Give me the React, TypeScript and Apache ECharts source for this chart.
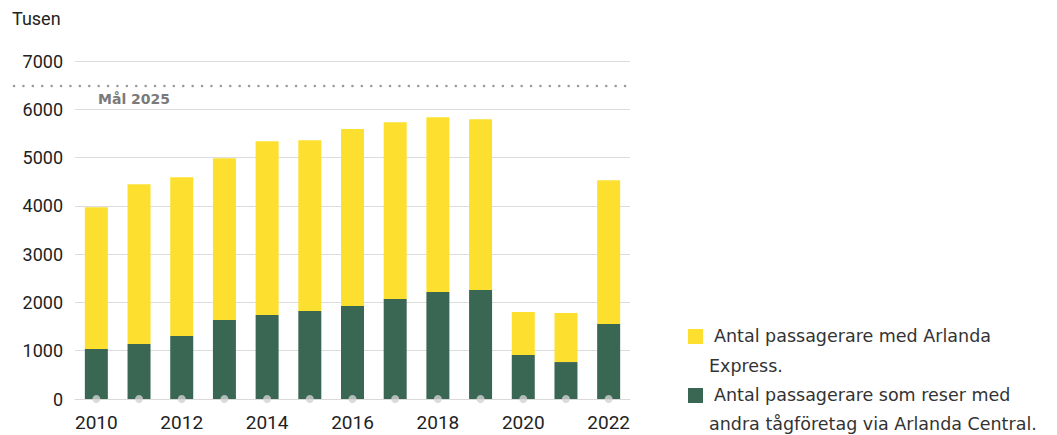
import React, { useEffect, useRef } from "react";
import * as echarts from "echarts";

const years = ["2010","2011","2012","2013","2014","2015","2016","2017","2018","2019","2020","2021","2022"];
const totals = [3970, 4450, 4595, 4985, 5340, 5360, 5590, 5730, 5835, 5795, 1800, 1780, 4530];
const others = [1035, 1140, 1305, 1635, 1740, 1820, 1925, 2070, 2215, 2255, 910, 765, 1555];
const target2025 = 6480;
const legendLabels = [
  ["Antal passagerare med Arlanda", "Express."],
  ["Antal passagerare som reser med", "andra tågföretag via Arlanda Central."],
];
const yellow = "#fde02f";
const green = "#3a6753";
const FONT = "Roboto, 'Noto Sans', sans-serif";
const WIDE = "'DejaVu Sans', sans-serif";

export default function App() {
  const ref = useRef<HTMLDivElement>(null);
  useEffect(() => {
    if (!ref.current) return;
    const chart = echarts.init(ref.current, null, { renderer: "svg" });
    const express = totals.map((t, i) => t - others[i]);
    chart.setOption({
      animation: false,
      textStyle: { fontFamily: FONT },
      grid: { left: 75, right: 427, top: 61, bottom: 36 },
      xAxis: {
        type: "category",
        data: years,
        axisLine: { show: true, lineStyle: { color: "#d9d9d9", width: 1 } },
        axisTick: { show: false },
        axisLabel: {
          interval: 1,
          color: "#222",
          fontSize: 19,
          margin: 14,
          fontFamily: FONT,
        },
      },
      yAxis: {
        type: "value",
        min: 0,
        max: 7000,
        interval: 1000,
        axisLine: { show: false },
        axisTick: { show: false },
        splitLine: { lineStyle: { color: "#dcdcdc", width: 1 } },
        axisLabel: {
          color: "#222",
          fontSize: 18,
          margin: 12,
          fontFamily: FONT,
          formatter: (v: number) => String(v),
        },
      },
      series: [
        {
          name: "others",
          type: "bar",
          stack: "a",
          data: others,
          barWidth: 23,
          itemStyle: { color: green },
        },
        {
          name: "express",
          type: "bar",
          stack: "a",
          data: express,
          barWidth: 23,
          itemStyle: { color: yellow },
        },
        {
          name: "ticks",
          type: "scatter",
          data: years.map(() => 0),
          symbol: "circle",
          symbolSize: 8,
          itemStyle: { color: "#d2d2d2" },
          z: 5,
          silent: true,
        },
      ],
    });
    const yT = chart.convertToPixel({ yAxisIndex: 0 }, target2025) as number;
    const lf = `17.5px ${WIDE}`;
    chart.setOption({
      graphic: [
        {
          type: "line",
          shape: { x1: 14, y1: yT, x2: 633, y2: yT },
          style: { stroke: "#9a9a9a", lineWidth: 2.5, lineDash: [0.1, 9.3], lineCap: "round" },
        },
        {
          type: "text",
          x: 98,
          y: yT + 6,
          style: { text: "Mål 2025", fill: "#7a7a7a", font: `bold 14px ${WIDE}` },
        },
        {
          type: "text",
          x: 12,
          y: 9,
          style: { text: "Tusen", fill: "#222", font: `18px ${FONT}` },
        },
        { type: "rect", shape: { x: 688, y: 329, width: 15, height: 15 }, style: { fill: yellow } },
        { type: "text", x: 714, y: 327, style: { text: legendLabels[0][0], fill: "#333", font: lf } },
        { type: "text", x: 709, y: 357, style: { text: legendLabels[0][1], fill: "#333", font: lf } },
        { type: "rect", shape: { x: 688, y: 388, width: 15, height: 15 }, style: { fill: green } },
        { type: "text", x: 714, y: 386, style: { text: legendLabels[1][0], fill: "#333", font: lf } },
        { type: "text", x: 709, y: 415, style: { text: legendLabels[1][1], fill: "#333", font: lf } },
      ],
    });
    return () => chart.dispose();
  }, []);
  return (
    <div
      ref={ref}
      style={{ position: "fixed", left: 0, top: 0, width: 1057, height: 435, background: "#fff" }}
    />
  );
}
